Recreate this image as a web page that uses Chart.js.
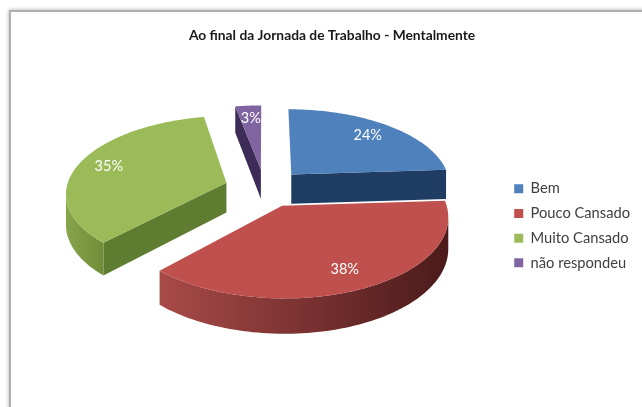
<!DOCTYPE html>
<html lang="pt">
<head>
<meta charset="utf-8">
<title>Ao final da Jornada de Trabalho - Mentalmente</title>
<script src="https://cdn.jsdelivr.net/npm/chart.js@4"></script>
<style>
  html, body { margin: 0; background: #fff; overflow: hidden; }
  .frame {
    position: fixed; left: 9px; top: 10px; width: 900px; height: 700px;
    border: 2px solid #b0b0b0; box-shadow: 0 0 4px rgba(0, 0, 0, .35);
  }
  .wrap { position: fixed; left: 0; top: 0; width: 642px; height: 407px; }
</style>
</head>
<body>
<div class="frame"></div>
<div class="wrap"><canvas id="pieChart" width="642" height="407"></canvas></div>
<script>
const categories = ['Bem', 'Pouco Cansado', 'Muito Cansado', 'não respondeu'];
const percentages = [24, 38, 35, 3];

const topColors = ['#4f81bd', '#c0504d', '#9bbb59', '#8064a2'];
const wallColors = ['#1f3c62', '#6e2a29', '#5f7d31', '#3d2c57'];
const rimColors = [
  ['#2a4a75', '#1f3c62'],
  ['#a84a48', '#4b1a1a'],
  ['#87a54b', '#728d38'],
  ['#4a3668', '#3d2c57']
];
const labelRadius = [0.78, 0.79, 0.8, 0.78];

// Tilted view of the pie plane
const view = { cx: 264.5, cy: 188, squash: 0.4772, persp: 0.000774, depth: 30 };

function project(u, v) {
  const w = 1 / (1 - view.persp * v);
  return { x: view.cx + u * w, y: view.cy + view.squash * v * w, drop: view.depth * w };
}

// Point of a slice on the tilted plane, at a given angle and distance from its apex
function slicePoint(arc, angle, radius) {
  const mid = (arc.startAngle + arc.endAngle) / 2;
  const u = Math.cos(mid) * arc.options.offset + Math.cos(angle) * radius;
  const v = Math.sin(mid) * arc.options.offset + Math.sin(angle) * radius;
  return project(u, v);
}

function fillPath(ctx, points, fill) {
  ctx.beginPath();
  points.forEach((p, i) => (i ? ctx.lineTo(p.x, p.y) : ctx.moveTo(p.x, p.y)));
  ctx.closePath();
  ctx.fillStyle = fill;
  ctx.fill();
}

function dropped(points) {
  return points.map(p => ({ x: p.x, y: p.y + p.drop }));
}

function drawSlice(ctx, arc, index) {
  const steps = 90;
  const rim = [];
  for (let i = 0; i <= steps; i++) {
    const angle = arc.startAngle + (arc.endAngle - arc.startAngle) * i / steps;
    rim.push(slicePoint(arc, angle, arc.outerRadius));
  }
  const apex = slicePoint(arc, 0, 0);
  const first = rim[0];
  const last = rim[rim.length - 1];

  // Outer wall, only where the rim runs leftwards (faces the viewer)
  const front = rim.filter((p, i) => i < steps ? rim[i + 1].x < p.x : rim[i - 1].x > p.x);
  if (front.length > 1) {
    const xs = front.map(p => p.x);
    const shade = ctx.createLinearGradient(Math.min(...xs), 0, Math.max(...xs), 0);
    shade.addColorStop(0, rimColors[index][0]);
    shade.addColorStop(1, rimColors[index][1]);
    fillPath(ctx, front.concat(dropped(front).reverse()), shade);
  }

  // Cut faces
  if (last.x > apex.x + 1) {
    fillPath(ctx, [last, apex].concat(dropped([apex, last])), wallColors[index]);
  }
  if (first.x < apex.x - 4) {
    fillPath(ctx, [apex, first].concat(dropped([first, apex])), wallColors[index]);
  }

  fillPath(ctx, [apex].concat(rim), topColors[index]);
}

// Draws the arcs computed by the doughnut controller as a tilted, exploded 3D pie
const tiltedPie = {
  id: 'tiltedPie',
  beforeDatasetsDraw(chart) {
    const ctx = chart.ctx;
    const arcs = chart.getDatasetMeta(0).data;
    const apexY = arc => slicePoint(arc, 0, 0).y;
    const order = arcs.map((arc, i) => i).sort((a, b) => apexY(arcs[a]) - apexY(arcs[b]));
    order.forEach(i => drawSlice(ctx, arcs[i], i));

    ctx.font = '14.5px Lato';
    ctx.fillStyle = '#fff';
    ctx.textAlign = 'center';
    ctx.textBaseline = 'middle';
    arcs.forEach((arc, i) => {
      const mid = (arc.startAngle + arc.endAngle) / 2;
      const p = slicePoint(arc, mid, arc.outerRadius * labelRadius[i]);
      ctx.fillText(percentages[i] + '%', p.x, p.y);
    });
    return false;
  }
};

new Chart(document.getElementById('pieChart'), {
  type: 'pie',
  data: {
    labels: categories,
    datasets: [{
      data: percentages,
      backgroundColor: topColors,
      borderWidth: 0,
      offset: 40
    }]
  },
  options: {
    responsive: false,
    animation: false,
    events: [],
    radius: 160,
    layout: { padding: { left: 24, right: 2, bottom: 5 } },
    plugins: {
      title: {
        display: true,
        text: 'Ao final da Jornada de Trabalho - Mentalmente',
        color: '#1a1a1a',
        font: { family: 'Lato', size: 13.8, weight: 'bold' },
        padding: { top: 27, bottom: 6 }
      },
      legend: {
        position: 'right',
        fullSize: false,
        labels: {
          color: '#404040',
          font: { family: 'Lato', size: 14.7 },
          boxWidth: 9,
          boxHeight: 9,
          padding: 10
        }
      },
      tooltip: { enabled: false }
    }
  },
  plugins: [tiltedPie]
});
</script>
</body>
</html>
